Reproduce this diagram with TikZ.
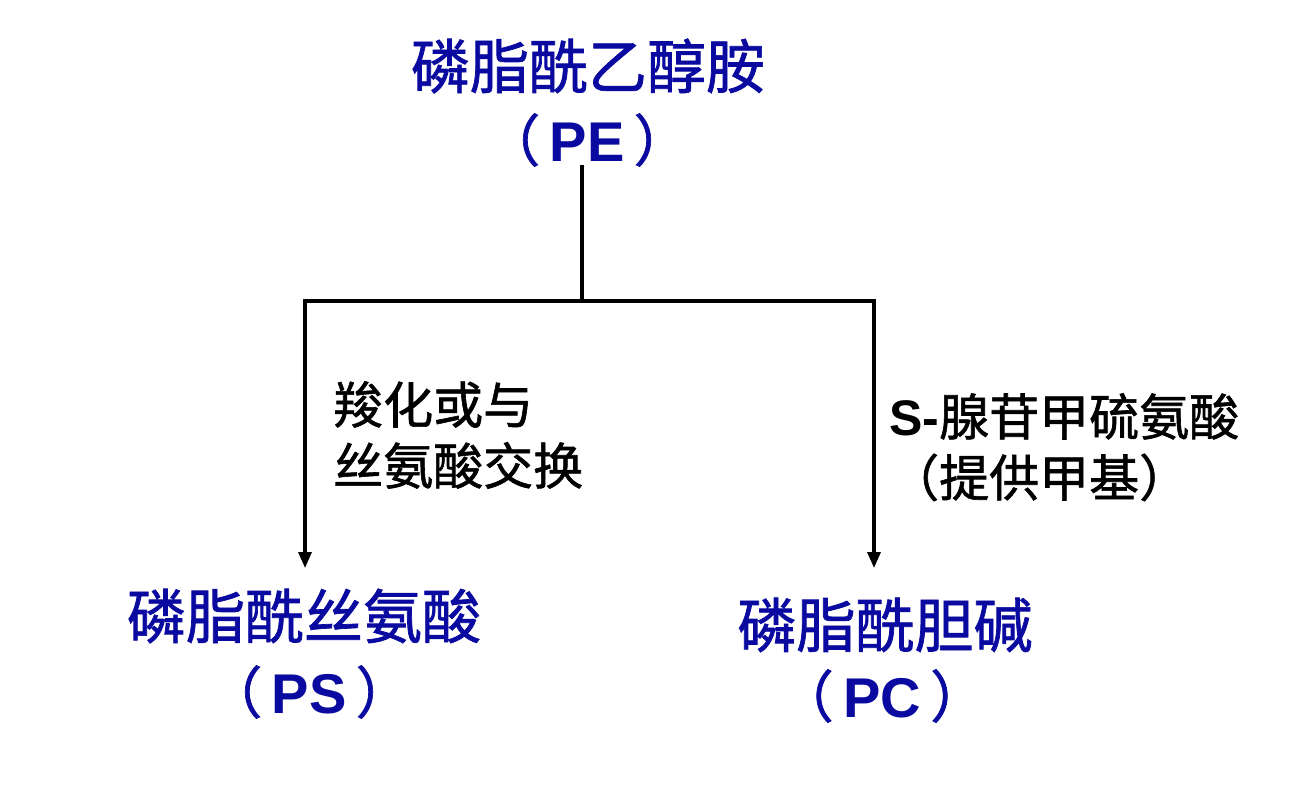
\documentclass[tikz,border=0pt]{standalone}
\usepackage{fontspec}
\usetikzlibrary{arrows.meta}
\newfontfamily\cjk[FakeBold=1.2]{Noto Sans CJK SC}
\newfontfamily\lat{Liberation Sans}
\definecolor{titleblue}{RGB}{10,10,160}
\tikzset{
  title/.style={text=titleblue, font=\cjk\fontsize{59}{64}\selectfont, inner sep=0pt, anchor=center},
  abbr/.style={text=titleblue, font=\cjk\fontsize{56}{60}\selectfont, inner sep=0pt, anchor=center},
  note/.style={text=black, font=\cjk\fontsize{50}{61}\selectfont, inner sep=0pt, align=left, anchor=north west},
  link/.style={line width=3.2pt, draw=black},
  arrowlink/.style={link, -{Triangle[length=16pt,width=13pt]}}
}
\begin{document}
\begin{tikzpicture}[x=1pt,y=-1pt]
  \useasboundingbox (0,0) rectangle (1302,810);
  \fill[white] (0,0) rectangle (1302,810);

  % compounds
  \node[title] (pe)  at (588,66)  {磷脂酰乙醇胺};
  \node[abbr]  (pea) at (587,140) {（\,{\lat\bfseries PE}\,）};
  \node[title] (ps)  at (304,616) {磷脂酰丝氨酸};
  \node[abbr]  (psa) at (309,692) {（\,{\lat\bfseries PS}\,）};
  \node[title] (pc)  at (885,625) {磷脂酰胆碱};
  \node[abbr]  (pca) at (882,696) {（\,{\lat\bfseries PC}\,）};

  % branch points of the tree
  \coordinate (top)    at (582,165);
  \coordinate (split)  at (582,301);
  \coordinate (lsplit) at (305,301);
  \coordinate (rsplit) at (874,301);
  \coordinate (lend)   at (305,568);
  \coordinate (rend)   at (874,568);

  \draw[link] (top) -- (split);
  \draw[link, line cap=rect] (lsplit) -- (rsplit);
  \draw[arrowlink] (lsplit) -- (lend);
  \draw[arrowlink] (rsplit) -- (rend);

  % reaction labels
  \node[note] (lnote) at (333,381) {羧化或与\\丝氨酸交换};
  \node[note] (rnote) at (889,393) {{\lat\bfseries S-}腺苷甲硫氨酸\\（提供甲基）};
\end{tikzpicture}
\end{document}
